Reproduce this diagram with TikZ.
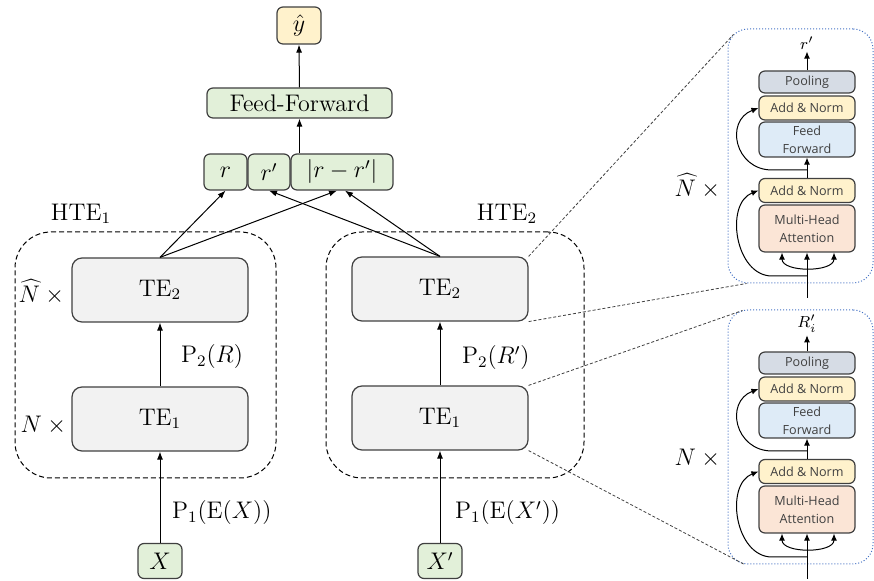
\documentclass[tikz,border=0pt]{standalone}
\usepackage{fontspec}
\newfontfamily\panelfont{Open Sans}
\usetikzlibrary{arrows.meta,calc}

\definecolor{edgegray}{HTML}{404040}
\definecolor{tegray}{HTML}{F2F2F2}
\definecolor{iogreen}{HTML}{E2F0D9}
\definecolor{outyellow}{HTML}{FFF2CC}
\definecolor{poolgray}{HTML}{D6DCE5}
\definecolor{ffblue}{HTML}{DEEBF7}
\definecolor{mhapink}{HTML}{FBE5D6}
\definecolor{panelblue}{HTML}{4472C4}

\begin{document}
\begin{tikzpicture}[x=0.5pt, y=-0.5pt, font=\large,
  arr/.style={-{Latex[length=4pt,width=3pt]}, line width=0.5pt},
  box/.style={draw=edgegray, line width=0.6pt, rounded corners=3pt, inner sep=0pt},
  tebox/.style={box, fill=tegray, minimum width=88pt, minimum height=32pt, rounded corners=5pt},
  iobox/.style={box, fill=iogreen, minimum height=18pt},
  hte/.style={draw, dashed, dash pattern=on 2.5pt off 1.5pt, line width=0.5pt,
    rounded corners=18pt, minimum height=123pt},
  zoomline/.style={draw=edgegray, line width=0.4pt, dash pattern=on 1.5pt off 1pt},
  panel/.style={draw=panelblue, densely dotted, line width=0.5pt, rounded corners=10pt,
    minimum width=72.5pt, minimum height=127pt},
  sub/.style={box, minimum width=48pt, text=edgegray, align=center,
    font=\panelfont\fontsize{6.3}{9}\selectfont},
  sarr/.style={-{Latex[length=3.5pt,width=3pt]}, line width=0.5pt}
]
  \useasboundingbox (0,0) rectangle (874,581);

  % Draw head
  \node[box, fill=outyellow, minimum width=22pt, minimum height=18.5pt] (yhat) at (299,25.5) {$\hat{y}$};
  \node[box, fill=iogreen, minimum width=92.5pt, minimum height=15pt] (ff) at (299.5,103) {Feed-Forward};
  \node[iobox, minimum width=21.5pt] (r) at (225.5,172) {$r$};
  \node[iobox, minimum width=21pt] (rp) at (269,172) {$r'$};
  \node[iobox, minimum width=51pt] (rd) at (342,172) {$|r-r'|$};
  \draw[arr] (ff.north) -- (yhat.south);
  \draw[arr] (ff.south |- rd.north) -- (ff.south);

  % Draw encoders
  \node[hte, minimum width=130.5pt] (hte1) at (145.5,355) {};
  \node[hte, minimum width=129pt] (hte2) at (455,355) {};
  \node (hte1lab) at (81,214) {$\mathrm{HTE}_1$};
  \node (hte2lab) at (507,214) {$\mathrm{HTE}_2$};

  \node[tebox] (te2l) at (160,290) {$\mathrm{TE}_2$};
  \node[tebox] (te1l) at (160,419) {$\mathrm{TE}_1$};
  \node[tebox] (te2r) at (440,289) {$\mathrm{TE}_2$};
  \node[tebox] (te1r) at (440,418) {$\mathrm{TE}_1$};
  \node (nhatl) at (44,292) {$\widehat{N}\times{}$};
  \node (nl) at (46,425) {$N\times{}$};

  \node[box, fill=iogreen, minimum width=22pt, minimum height=17.5pt] (x) at (160,561) {$X$};
  \node[box, fill=iogreen, minimum width=22pt, minimum height=17.5pt] (xp) at (440,561) {$X'$};

  \draw[arr] (x.north) -- (te1l.south);
  \draw[arr] (te1l.north) -- (te2l.south);
  \draw[arr] (xp.north) -- (te1r.south);
  \draw[arr] (te1r.north) -- (te2r.south);
  \node[anchor=west] (p1l) at (165,513) {$\mathrm{P}_1(\mathrm{E}(X))$};
  \node[anchor=west] (p2l) at (174,357) {$\mathrm{P}_2(R)$};
  \node[anchor=west] (p1r) at (448,513) {$\mathrm{P}_1(\mathrm{E}(X'))$};
  \node[anchor=west] (p2r) at (455,358) {$\mathrm{P}_2(R')$};

  \draw[arr] (te2l.north) -- (r.south);
  \draw[arr] (te2l.north) -- ($(rd.south)+(-5,0)$);
  \draw[arr] (te2r.north) -- (rp.south);
  \draw[arr] (te2r.north) -- ($(rd.south)+(3,0)$);

  % Draw zoomed layers
  \foreach \p/\dy/\outlab/\nlab/\nly in {A/0/{r'}/{\widehat{N}}/186, B/281/{R'_i}/{N}/458} {
    \node[panel] (panel\p) at (800.5,156+\dy) {};
    \node[sub, fill=poolgray, minimum height=11pt] (pool\p) at (807,82+\dy) {Pooling};
    \node[sub, fill=outyellow, minimum height=12pt] (an2\p) at (807,108+\dy) {Add \& Norm};
    \node[sub, fill=ffblue, minimum height=17.5pt] (ff\p) at (807,139.5+\dy) {Feed\\Forward};
    \node[sub, fill=outyellow, minimum height=12pt] (an1\p) at (807,190.5+\dy) {Add \& Norm};
    \node[sub, fill=mhapink, minimum height=23.5pt] (mha\p) at (807,228.5+\dy) {Multi-Head\\Attention};
    \node[font=\footnotesize, inner sep=1pt] (out\p) at (807,43+\dy) {$\outlab$};
    \node (n\p) at (700,\nly) {$\nlab\times{}$};
    \coordinate (in\p) at (807,298+\dy);
    \coordinate (res1\p) at (807,276+\dy);
    \coordinate (res2\p) at (807,170+\dy);

    \draw[sarr] (in\p) -- (mha\p.south);
    \draw[{Latex[length=3.5pt,width=3pt]}-{Latex[length=3.5pt,width=3pt]}, line width=0.5pt]
      ($(mha\p.south)+(-25,0)$) .. controls +(0,20) and +(0,20) .. ($(mha\p.south)+(27,0)$);
    \draw[sarr] (res1\p) -- ++(-35,0) .. controls +(-37,0) and +(-34,13) .. (an1\p.west);
    \draw[sarr] (an1\p.north) -- (ff\p.south);
    \draw[sarr] (res2\p) -- ++(-35,0) .. controls +(-37,0) and +(-34,13) .. (an2\p.west);
    \draw[sarr] (pool\p.north) -- (out\p.south);
  }

  \draw[zoomline] (te2r.north east) -- ($(panelA.north west)+(6,6)$);
  \draw[zoomline] (te2r.south east) -- ($(panelA.south west)+(19,0)$);
  \draw[zoomline] (te1r.north east) -- ($(panelB.north west)+(15,1)$);
  \draw[zoomline] (te1r.south east) -- ($(panelB.south west)+(17,0)$);
\end{tikzpicture}
\end{document}
